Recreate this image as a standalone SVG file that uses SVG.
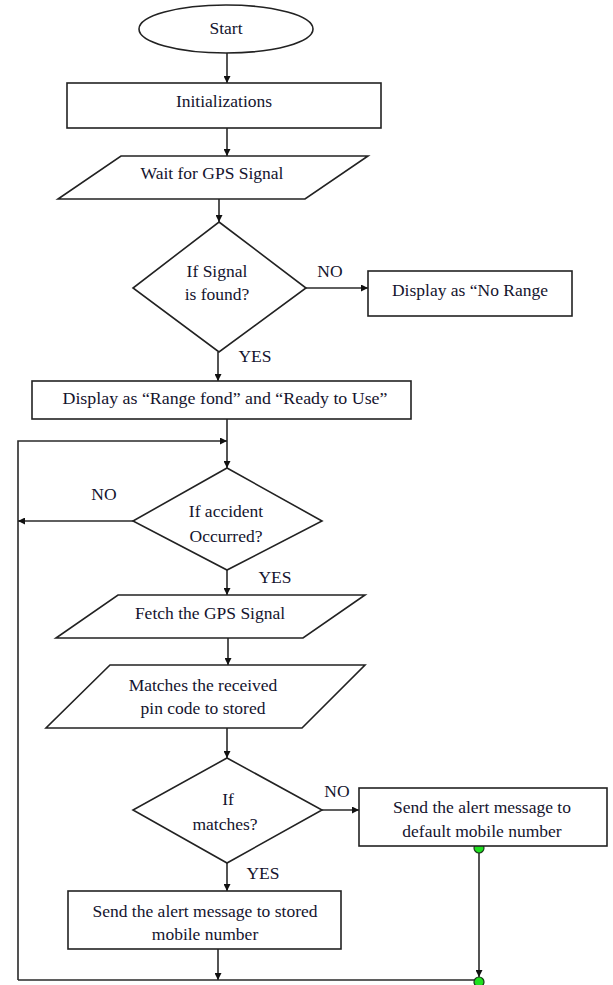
<svg xmlns="http://www.w3.org/2000/svg" width="613" height="985" viewBox="0 0 613 985">
<style>
.s{fill:#fff;stroke:#222;stroke-width:1.6}
.t{font-family:"Liberation Serif","Times New Roman",serif;font-size:17.5px;fill:#14142e;text-anchor:middle}
.c{fill:none;stroke:#2a2a2a;stroke-width:1.6}
.a{marker-end:url(#ah)}
.g{fill:#1fe01f;stroke:#1a3a1a;stroke-width:1.2}
</style>
<defs>
<marker id="ah" viewBox="0 0 10 10" refX="10" refY="5" markerWidth="8" markerHeight="7" orient="auto" markerUnits="userSpaceOnUse">
<path d="M0,0L10,5L0,10z" fill="#111"/>
</marker>
</defs>
<rect width="613" height="985" fill="#fff"/>
<g id="connectors">
<line class="c a" x1="227" y1="53" x2="227" y2="83"/>
<line class="c a" x1="227" y1="128" x2="227" y2="156"/>
<line class="c a" x1="219" y1="199" x2="219" y2="222"/>
<line class="c a" x1="306" y1="288" x2="368" y2="288"/>
<line class="c a" x1="218" y1="352" x2="218" y2="381"/>
<line class="c a" x1="227" y1="419" x2="227" y2="468"/>
<polyline class="c a" points="18,980 18,441 227,441"/>
<line class="c a" x1="133" y1="521" x2="18" y2="521"/>
<line class="c a" x1="227" y1="570" x2="227" y2="595"/>
<line class="c a" x1="228" y1="638" x2="228" y2="665"/>
<line class="c a" x1="227" y1="728" x2="227" y2="758"/>
<line class="c a" x1="322" y1="810" x2="359" y2="810"/>
<line class="c a" x1="227" y1="863" x2="227" y2="891"/>
<line class="c a" x1="218" y1="949" x2="218" y2="980"/>
<line class="c" x1="18" y1="980" x2="479" y2="980"/>
<line class="c a" x1="479" y1="848" x2="479" y2="977"/>
<circle class="g" cx="479" cy="848" r="5"/>
<circle class="g" cx="479" cy="982" r="5"/>
<text class="t" x="330" y="277">NO</text>
<text class="t" x="255" y="362">YES</text>
<text class="t" x="104" y="500">NO</text>
<text class="t" x="275" y="583">YES</text>
<text class="t" x="337" y="797">NO</text>
<text class="t" x="263" y="879">YES</text>
</g>
<g id="start">
<ellipse class="s" cx="226" cy="29" rx="87" ry="24"/>
<text class="t" x="226" y="34">Start</text>
</g>
<g id="init">
<rect class="s" x="67" y="83" width="314" height="45"/>
<text class="t" x="224" y="107">Initializations</text>
</g>
<g id="wait">
<polygon class="s" points="121,156 368,156 305,199 58,199"/>
<text class="t" x="212" y="179">Wait for GPS Signal</text>
</g>
<g id="signal">
<polygon class="s" points="219,222 306,288 219,352 133,288"/>
<text class="t" x="217" y="277">If Signal</text>
<text class="t" x="217" y="300">is found?</text>
</g>
<g id="norange">
<rect class="s" x="368" y="271" width="204" height="45"/>
<text class="t" x="470" y="296">Display as “No Range</text>
</g>
<g id="ready">
<rect class="s" x="32" y="381" width="379" height="38"/>
<text class="t" x="225" y="404" textLength="325" lengthAdjust="spacingAndGlyphs">Display as “Range fond” and “Ready to Use”</text>
</g>
<g id="accident">
<polygon class="s" points="227,468 322,521 227,570 133,521"/>
<text class="t" x="226" y="517">If accident</text>
<text class="t" x="226" y="542">Occurred?</text>
</g>
<g id="fetch">
<polygon class="s" points="118,595 365,595 303,638 56,638"/>
<text class="t" x="210" y="619">Fetch the GPS Signal</text>
</g>
<g id="match">
<polygon class="s" points="110,665 365,665 302,728 46,728"/>
<text class="t" x="203" y="691">Matches the received</text>
<text class="t" x="203" y="714">pin code to stored</text>
</g>
<g id="matches">
<polygon class="s" points="227,758 322,810 227,863 133,810"/>
<text class="t" x="228" y="805">If</text>
<text class="t" x="225" y="830">matches?</text>
</g>
<g id="default">
<rect class="s" x="359" y="788" width="248" height="58"/>
<text class="t" x="482" y="813">Send the alert message to</text>
<text class="t" x="482" y="837">default mobile number</text>
</g>
<g id="stored">
<rect class="s" x="68" y="891" width="273" height="58"/>
<text class="t" x="205" y="917">Send the alert message to stored</text>
<text class="t" x="205" y="940">mobile number</text>
</g>
</svg>
